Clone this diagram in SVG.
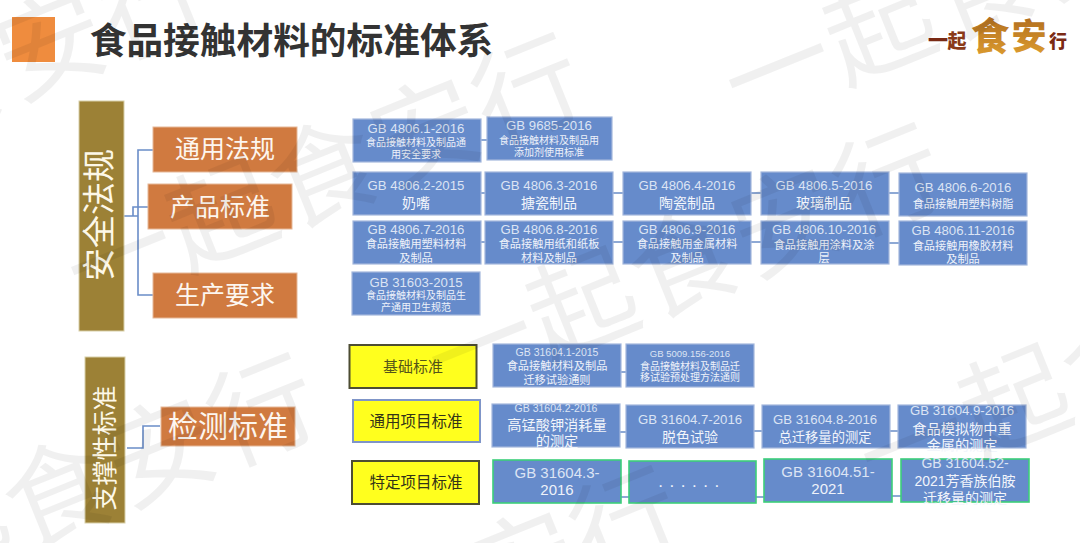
<svg xmlns="http://www.w3.org/2000/svg" width="1080" height="543" viewBox="0 0 1080 543">
<style>
text{font-family:"Liberation Sans","Noto Sans CJK SC",sans-serif;text-anchor:middle}
.b{fill:#668bcb;stroke:#a3b7dc;stroke-width:1.2}
.g{fill:#668bcb;stroke:#3ccf7a;stroke-width:1.6}
.o{fill:#d07a40;stroke:#e6b898;stroke-width:1}
.bar{fill:#9c8136;stroke:#d8cfa8;stroke-width:1}
.y{fill:#ffff1e;stroke:#4d4d33;stroke-width:2}
.y2{fill:#ffff1e;stroke:#7f95c8;stroke-width:2}
.c{fill:none;stroke:#6a8dc8;stroke-width:1.6}
.h{font-size:13.2px;fill:#dce4f4}
.s{font-size:10px;fill:#eef2fa}
.t{font-size:11.2px;fill:#eef2fa}
.m{font-size:14px;fill:#f2f5fb}
.n{font-size:13.3px;fill:#f2f5fb}
.l{font-size:14.2px;fill:#f2f5fb}
.big{font-size:25px;fill:#fdf6ef}
.yt{font-size:15px;fill:#55551a}
.yd{font-size:15.5px;fill:#333318}
.wm{font-size:108px;letter-spacing:2px;fill:#000;fill-opacity:.06;text-anchor:start;font-family:"Noto Sans CJK SC",sans-serif;font-weight:400}
.lg{font-family:"Noto Sans CJK SC",serif;font-weight:900}
</style>
<defs>
<linearGradient id="gold" x1="0" y1="0" x2="0" y2="1"><stop offset="0" stop-color="#a8641c"/><stop offset="1" stop-color="#e0a030"/></linearGradient>
</defs>
<rect width="1080" height="543" fill="#fff"/>
<g id="header">
<rect x="12" y="17" width="43" height="45" fill="#ef8c3e"/>
<text x="291.500" y="54" style="font-size:36.7px;font-weight:700;fill:#333;font-family:'Noto Sans CJK SC',sans-serif">食品接触材料的标准体系</text>
</g>
<g id="logo">
<text class="lg" x="938" y="48" style="font-size:20px;fill:#7a2a14">一</text>
<text class="lg" x="957" y="48" style="font-size:19px;fill:#8a3a18">起</text>
<text class="lg" x="990" y="50" style="font-size:38px;fill:url(#gold)">食</text>
<text class="lg" x="1029" y="49" style="font-size:35px;fill:url(#gold)">安</text>
<text class="lg" x="1058" y="48" style="font-size:18px;fill:#7a2a14">行</text>
</g>
<g id="connectors">
<path class="c" d="M123 216H138V150H153M123 216H138V295H153M123 216H133V207H148"/>
<path class="c" d="M127 448H143V426H160"/>
<path class="c" d="M481 140H487M481 193H485M613 193H623M751 193H761M889 193H899M481 242H485M613 242H623M751 242H761M889 243H899"/>
<path class="c" d="M621 372H626M620 432H626M754 431H762M890 431H898M621 497H629M756 497H764M892 496H901"/>
</g>
<g id="n-safety"><rect class="bar" x="79" y="101" width="45" height="230"/><text transform="translate(111,215) rotate(-90)" style="font-size:33px;fill:#fdf8e8">安全法规</text></g>
<g id="n-general"><rect class="o" x="153" y="127" width="144" height="45"/><text class="big" x="225" y="158">通用法规</text></g>
<g id="n-product"><rect class="o" x="148" y="184" width="144" height="45"/><text class="big" x="220" y="216">产品标准</text></g>
<g id="n-production"><rect class="o" x="153" y="273" width="144" height="45"/><text class="big" x="225" y="304">生产要求</text></g>
<g id="n-support"><rect class="bar" x="85" y="357" width="40" height="166"/><text transform="translate(114,448) rotate(-90)" style="font-size:25px;fill:#fdf8e8">支撑性标准</text></g>
<g id="n-test"><rect class="o" x="161" y="407" width="134" height="39"/><text x="228" y="437" style="font-size:30px;fill:#fdf6ef">检测标准</text></g>

<g id="n1"><rect class="b" x="353" y="119" width="128" height="43"/><text class="h" x="416" y="133">GB 4806.1-2016</text><text class="s" x="416" y="146">食品接触材料及制品通</text><text class="s" x="416" y="158">用安全要求</text></g>
<g id="n2"><rect class="b" x="487" y="117" width="125" height="43"/><text class="h" x="549" y="130">GB 9685-2016</text><text class="s" x="549" y="144">食品接触材料及制品用</text><text class="s" x="549" y="156">添加剂使用标准</text></g>

<g id="n3"><rect class="b" x="353" y="172" width="128" height="43"/><text class="h" x="416" y="190">GB 4806.2-2015</text><text class="m" x="416" y="208">奶嘴</text></g>
<g id="n4"><rect class="b" x="485" y="172" width="128" height="43"/><text class="h" x="549" y="190">GB 4806.3-2016</text><text class="m" x="549" y="208">搪瓷制品</text></g>
<g id="n5"><rect class="b" x="623" y="172" width="128" height="43"/><text class="h" x="687" y="190">GB 4806.4-2016</text><text class="m" x="687" y="208">陶瓷制品</text></g>
<g id="n6"><rect class="b" x="761" y="172" width="128" height="43"/><text class="h" x="824" y="190">GB 4806.5-2016</text><text class="m" x="824" y="208">玻璃制品</text></g>
<g id="n7"><rect class="b" x="899" y="173" width="128" height="43"/><text class="h" x="963" y="192">GB 4806.6-2016</text><text class="t" x="963" y="208">食品接触用塑料树脂</text></g>

<g id="n8"><rect class="b" x="353" y="221" width="128" height="43"/><text class="h" x="416" y="234">GB 4806.7-2016</text><text class="t" x="416" y="248">食品接触用塑料材料</text><text class="t" x="416" y="262">及制品</text></g>
<g id="n9"><rect class="b" x="485" y="221" width="128" height="43"/><text class="h" x="549" y="234">GB 4806.8-2016</text><text class="t" x="549" y="248">食品接触用纸和纸板</text><text class="t" x="549" y="262">材料及制品</text></g>
<g id="n10"><rect class="b" x="623" y="221" width="128" height="43"/><text class="h" x="687" y="234">GB 4806.9-2016</text><text class="t" x="687" y="248">食品接触用金属材料</text><text class="t" x="687" y="262">及制品</text></g>
<g id="n11"><rect class="b" x="761" y="221" width="128" height="43"/><text class="h" x="824" y="234">GB 4806.10-2016</text><text class="t" x="824" y="249">食品接触用涂料及涂</text><text class="t" x="824" y="262">层</text></g>
<g id="n12"><rect class="b" x="899" y="221" width="128" height="44"/><text class="h" x="963" y="235">GB 4806.11-2016</text><text class="t" x="963" y="250">食品接触用橡胶材料</text><text class="t" x="963" y="263">及制品</text></g>

<g id="n13"><rect class="b" x="352" y="272" width="128" height="43"/><text class="h" x="416" y="287">GB 31603-2015</text><text class="s" x="416" y="299">食品接触材料及制品生</text><text class="s" x="416" y="311">产通用卫生规范</text></g>

<g id="n14"><rect class="y" x="349.500" y="345" width="127" height="43"/><text class="yt" x="413" y="372">基础标准</text></g>
<g id="n15"><rect class="y2" x="353" y="400" width="127" height="42"/><text class="yd" x="416" y="427">通用项目标准</text></g>
<g id="n16"><rect class="y" x="352" y="461" width="127" height="43"/><text class="yd" x="416" y="488">特定项目标准</text></g>

<g id="n17"><rect class="b" x="493" y="344" width="128" height="43"/><text class="h" x="557" y="356" style="font-size:10.500px">GB 31604.1-2015</text><text class="t" x="557" y="370">食品接触材料及制品</text><text class="t" x="557" y="384">迁移试验通则</text></g>
<g id="n18"><rect class="b" x="626" y="344" width="128" height="43"/><text class="h" x="690" y="357" style="font-size:9.500px">GB 5009.156-2016</text><text class="s" x="690" y="370">食品接触材料及制品迁</text><text class="s" x="690" y="381">移试验预处理方法通则</text></g>

<g id="n19"><rect class="b" x="492" y="404" width="128" height="43"/><text class="h" x="556" y="412" style="font-size:10.500px">GB 31604.2-2016</text><text class="l" x="557" y="430">高锰酸钾消耗量</text><text class="l" x="557" y="446">的测定</text></g>
<g id="n20"><rect class="b" x="626" y="405" width="128" height="43"/><text class="h" x="690" y="424">GB 31604.7-2016</text><text class="m" x="690" y="442">脱色试验</text></g>
<g id="n21"><rect class="b" x="762" y="405" width="128" height="43"/><text class="h" x="825" y="424">GB 31604.8-2016</text><text class="n" x="825" y="442">总迁移量的测定</text></g>
<g id="n22"><rect class="b" x="898" y="405" width="128" height="43"/><text class="h" x="962" y="415">GB 31604.9-2016</text><text class="l" x="962" y="434">食品模拟物中重</text><text class="l" x="962" y="450">金属的测定</text></g>

<g id="n23"><rect class="g" x="493" y="460" width="128" height="43"/><text x="557" y="478" style="font-size:15px;fill:#dce4f4">GB 31604.3-</text><text x="557" y="495" style="font-size:15px;fill:#eef2fa">2016</text></g>
<g id="n24"><rect class="g" x="629" y="461" width="127" height="42"/><text x="692" y="487" style="font-size:17px;fill:#eef2fa;letter-spacing:6.500px">......</text></g>
<g id="n25"><rect class="g" x="764" y="459" width="128" height="43"/><text x="828" y="477" style="font-size:15px;fill:#dce4f4">GB 31604.51-</text><text x="828" y="494" style="font-size:15px;fill:#eef2fa">2021</text></g>
<g id="n26"><rect class="g" x="901" y="459" width="128" height="43"/><text x="965" y="468" style="font-size:14px;fill:#dce4f4">GB 31604.52-</text><text x="965" y="486" style="font-size:14px;fill:#f2f5fb">2021芳香族伯胺</text><text x="965" y="503" style="font-size:14px;fill:#f2f5fb">迁移量的测定</text></g>

<g id="watermark">
<text class="wm" transform="translate(-291,225) rotate(-22)">一起食安行</text>
<text class="wm" transform="translate(84,312) rotate(-22)">一起食安行</text>
<text class="wm" transform="translate(445,402) rotate(-22)">一起食安行</text>
<text class="wm" transform="translate(742,125) rotate(-22)">一起食安行</text>
<text class="wm" transform="translate(-181,632) rotate(-22)">一起食安行</text>
<text class="wm" transform="translate(182,745) rotate(-22)">一起食安行</text>
<text class="wm" transform="translate(877,499) rotate(-22)">一起食安行</text>
</g>
</svg>
